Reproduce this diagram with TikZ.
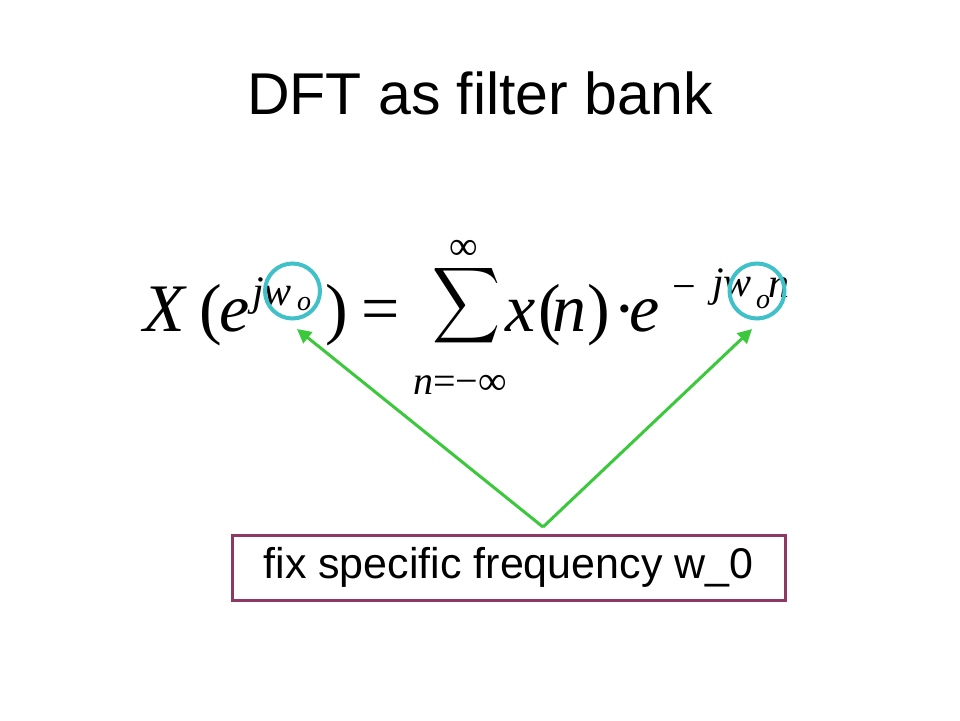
\documentclass[tikz,border=0pt]{standalone}
\usepackage{fontspec}
\setmainfont{Liberation Sans}
\newfontfamily\eqfont{Liberation Serif}
\usetikzlibrary{arrows.meta}
\definecolor{arrowgreen}{RGB}{60,200,60}
\definecolor{ringcyan}{RGB}{64,192,200}
\definecolor{boxpurple}{RGB}{142,56,100}
\tikzset{
  ring/.style={draw=ringcyan, line width=4pt, circle, minimum size=55pt, inner sep=0pt},
  pointer/.style={draw=arrowgreen, line width=3pt, -{Triangle[length=14pt,width=14pt]}},
  labelbox/.style={draw=boxpurple, line width=3pt, minimum width=553pt, minimum height=65pt, inner sep=0pt, font=\fontsize{43}{46}\selectfont},
  title/.style={font=\fontsize{59}{64}\selectfont, anchor=base},
  big/.style={anchor=base west, inner sep=0pt, font=\eqfont\fontsize{68}{70}\selectfont},
  bigi/.style={big, font=\eqfont\itshape\fontsize{68}{70}\selectfont},
  sup/.style={anchor=base west, inner sep=0pt, font=\eqfont\fontsize{42}{44}\selectfont},
  supi/.style={sup, font=\eqfont\itshape\fontsize{42}{44}\selectfont},
  subi/.style={anchor=base west, inner sep=0pt, font=\eqfont\itshape\fontsize{28}{30}\selectfont},
  lim/.style={anchor=base west, inner sep=0pt, font=\eqfont\fontsize{40}{42}\selectfont}
}
\begin{document}
\begin{tikzpicture}[x=1pt,y=-1pt]
\useasboundingbox (0,0) rectangle (960,720);
\fill[white] (0,0) rectangle (960,720);
\node[title] (title) at (480,114) {DFT as filter bank};
% left-hand side
\node[bigi] (X) at (143,331) {X};
\node[big] (lp) at (199,331) {(};
\node[bigi] (e1) at (219,331) {e};
\node[supi] (jw1) at (252,305) {jw};
\node[subi] (o1) at (297,310) {o};
\node[big] (rp) at (325,331) {)};
\node[big] (eq) at (361,331) {=};
% sum
\node[anchor=north west, inner sep=0pt] (sum) at (432,263) {\resizebox*{68pt}{85pt}{$\displaystyle\sum$}};
\node[lim, anchor=base, text depth=0pt] (top) at (464,259) {∞};
\node[lim] (bot) at (413,394) {\itshape n\upshape =−∞};
% right-hand side
\node[bigi] (x) at (505,331) {x};
\node[big] (lp2) at (538,331) {(};
\node[bigi] (n) at (552,331) {n};
\node[big] (rp2) at (587,331) {)};
\node[big] (dot) at (613,331) {·};
\node[bigi] (e2) at (629,331) {e};
\node[sup] (minus) at (672,300) {−};
\node[supi] (jw2) at (712,296) {jw};
\node[subi] (o2) at (756,308) {o};
\node[supi] (n2) at (768,297) {n};
% highlight rings
\node[ring] (c1) at (292.5,291) {};
\node[ring] (c2) at (757,291) {};
% label box and pointers
\node[labelbox] (box) at (508.5,567.5) {fix specific frequency w\_0};
\coordinate (apex) at (543,527);
\coordinate (t1) at (297,329);
\coordinate (t2) at (752,329);
\draw[pointer] (apex) -- (t1);
\draw[pointer] (apex) -- (t2);
\end{tikzpicture}
\end{document}
